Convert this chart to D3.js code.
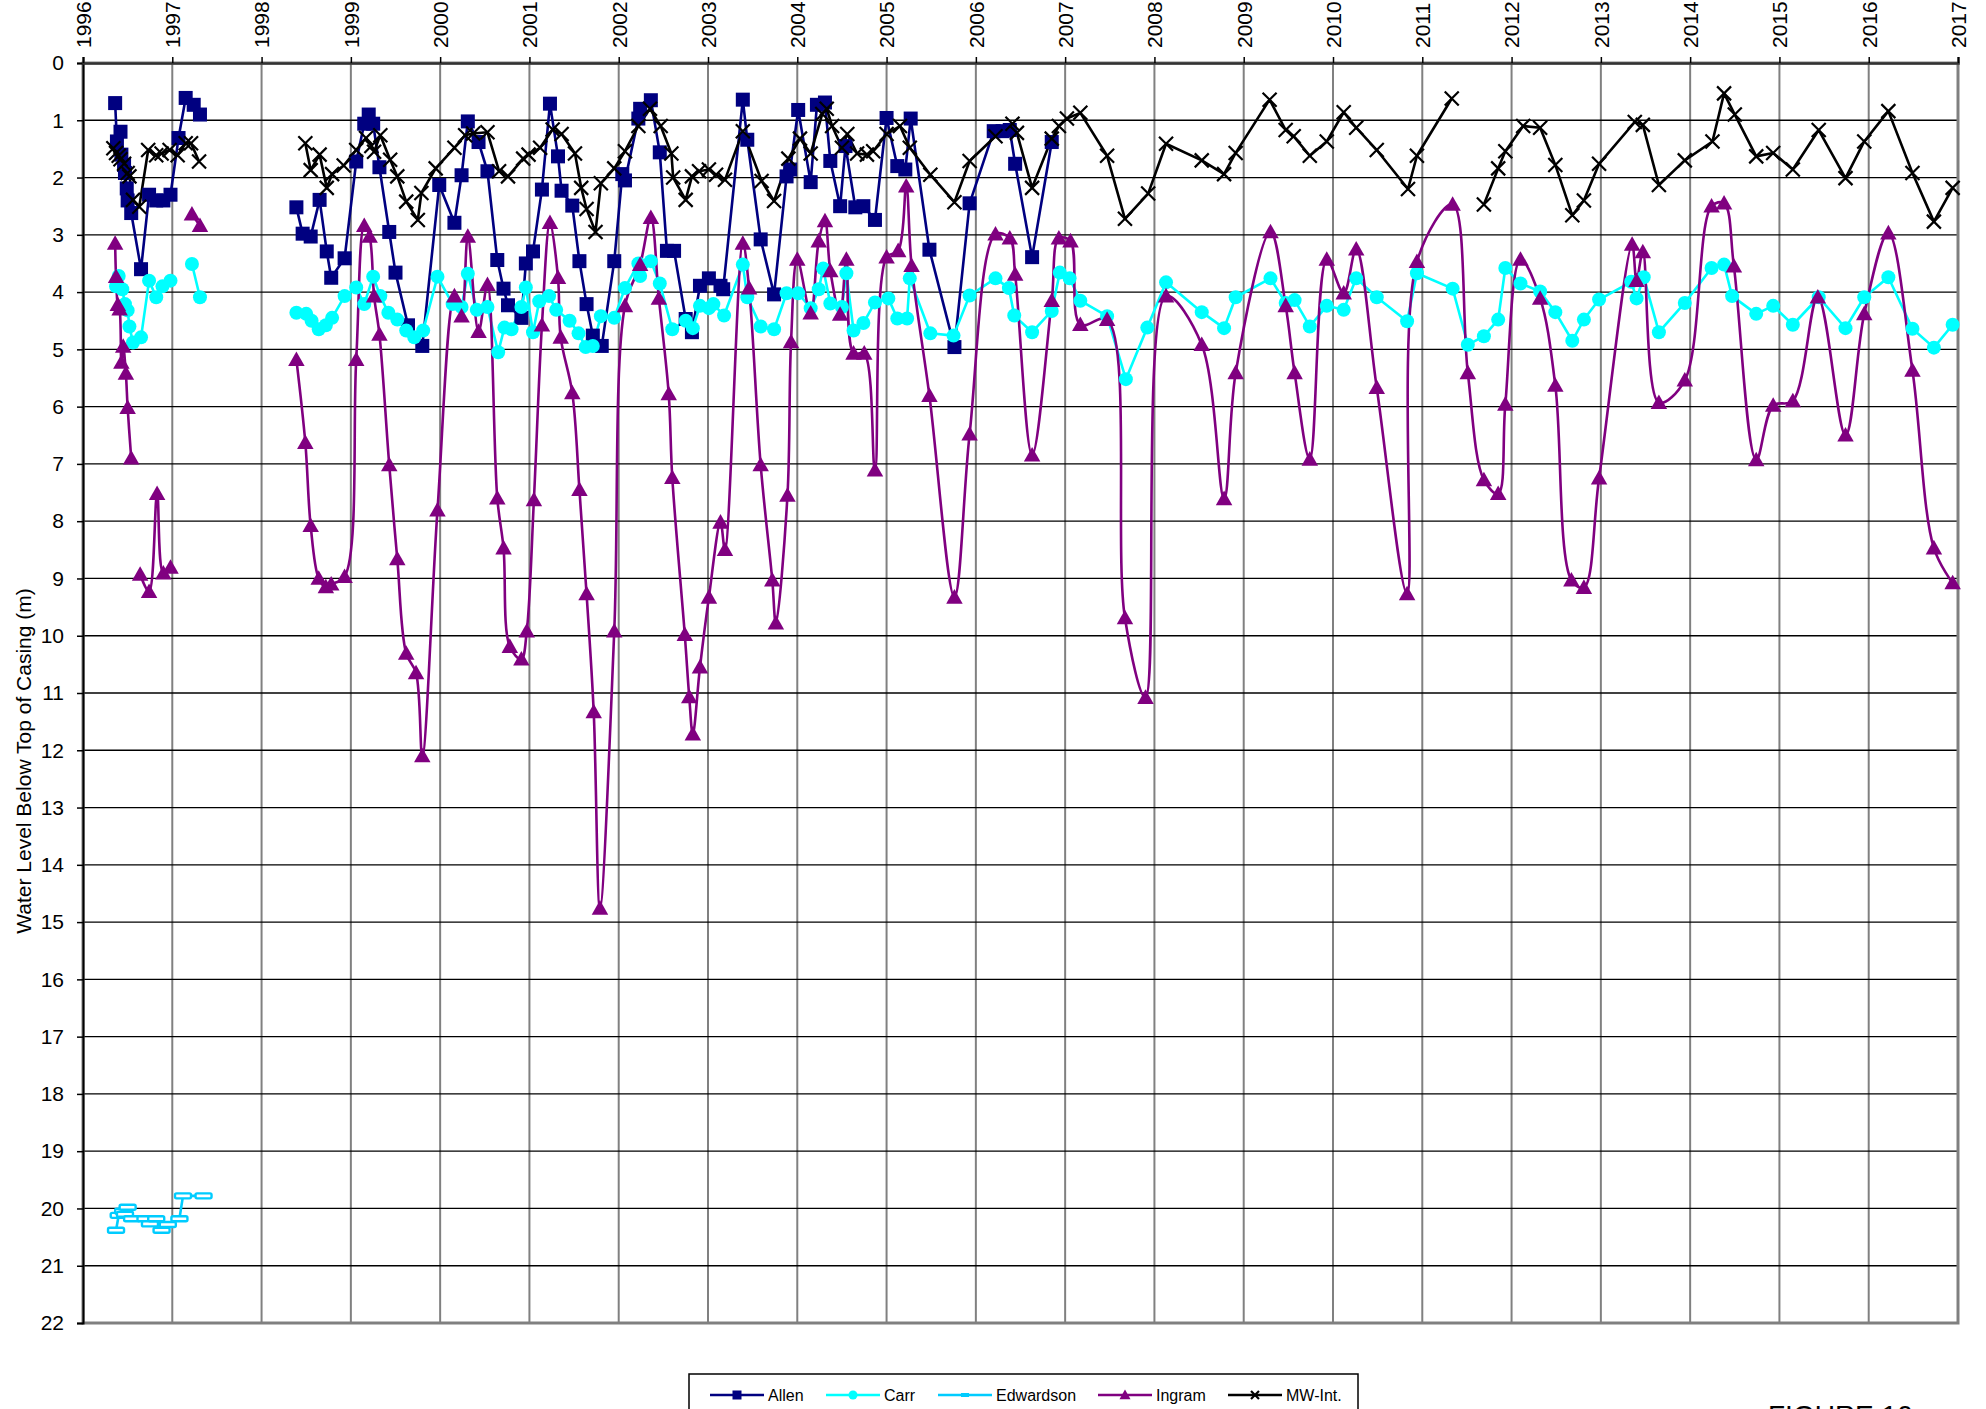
<!DOCTYPE html>
<html>
<head>
<meta charset="utf-8">
<script src="https://cdn.jsdelivr.net/npm/d3@7"></script>
<style>
  body { margin: 0; background: #fff; }
  svg { font-family: "Liberation Sans", Arial, sans-serif; }
</style>
</head>
<body>
<svg width="1986" height="1409"></svg>
<script>
// data: [decimal year, water level below top of casing (m)], null = gap
const allen = [
  [1996.36,0.70],[1996.38,1.37],[1996.42,1.20],[1996.43,1.60],[1996.46,1.78],[1996.47,1.92],[1996.49,2.19],[1996.50,2.40],[1996.54,2.62],[1996.65,3.60],[1996.74,2.30],[1996.82,2.40],[1996.90,2.40],[1996.98,2.30],[1997.07,1.31],[1997.15,0.61],[1997.24,0.73],[1997.31,0.90],
  null,
  [1998.39,2.52],[1998.46,2.98],[1998.55,3.03],[1998.65,2.39],[1998.73,3.29],[1998.78,3.75],[1998.93,3.41],[1999.06,1.72],[1999.15,1.06],[1999.20,0.90],[1999.25,1.06],[1999.32,1.82],[1999.43,2.95],[1999.50,3.66],[1999.64,4.58],[1999.80,4.94],[1999.99,2.13],
  [2000.16,2.79],[2000.24,1.96],[2000.31,1.02],[2000.43,1.38],[2000.53,1.89],[2000.64,3.44],[2000.71,3.94],[2000.76,4.23],[2000.91,4.45],[2000.96,3.50],[2001.04,3.29],[2001.14,2.21],[2001.23,0.71],[2001.32,1.63],[2001.36,2.23],[2001.48,2.49],[2001.56,3.46],[2001.64,4.21],[2001.71,4.76],[2001.81,4.94],[2001.95,3.46],
  [2002.04,1.94],[2002.07,2.05],[2002.22,0.97],[2002.24,0.80],[2002.36,0.65],[2002.46,1.56],[2002.54,3.28],[2002.62,3.28],[2002.75,4.47],[2002.82,4.70],[2002.91,3.89],[2003.01,3.76],[2003.14,3.89],[2003.17,3.95],[2003.39,0.64],[2003.44,1.34],[2003.59,3.08],[2003.74,4.04],[2003.88,1.98],[2003.92,1.86],
  [2004.01,0.82],[2004.15,2.08],[2004.22,0.73],[2004.31,0.69],[2004.37,1.71],[2004.48,2.50],[2004.54,1.45],[2004.65,2.52],[2004.74,2.50],[2004.87,2.74],[2005.00,0.96],[2005.12,1.80],[2005.21,1.86],[2005.27,0.97],[2005.48,3.26],[2005.76,4.96],[2005.93,2.45],
  [2006.20,1.19],[2006.30,1.19],[2006.38,1.17],[2006.44,1.76],[2006.63,3.39],[2006.85,1.38]
];

const carr = [
  [1996.37,3.90],[1996.40,3.72],[1996.44,3.95],[1996.47,4.21],[1996.50,4.32],[1996.52,4.60],[1996.56,4.88],[1996.65,4.79],[1996.74,3.80],[1996.82,4.09],[1996.89,3.90],[1996.98,3.80],
  null,
  [1997.22,3.51],[1997.31,4.09],
  null,
  [1998.39,4.36],[1998.50,4.38],[1998.56,4.50],[1998.64,4.65],[1998.72,4.58],[1998.79,4.45],[1998.93,4.07],[1999.06,3.92],[1999.15,4.21],[1999.25,3.73],[1999.33,4.07],[1999.42,4.36],[1999.52,4.48],[1999.62,4.67],[1999.71,4.79],[1999.81,4.67],[1999.97,3.73],
  [2000.14,4.21],[2000.24,4.26],[2000.31,3.68],[2000.41,4.31],[2000.53,4.26],[2000.65,5.05],[2000.72,4.62],[2000.80,4.65],[2000.91,4.26],[2000.96,3.92],[2001.04,4.70],[2001.11,4.16],[2001.22,4.07],[2001.30,4.31],[2001.45,4.50],[2001.55,4.72],[2001.63,4.96],[2001.71,4.94],[2001.80,4.42],[2001.95,4.45],
  [2002.07,3.93],[2002.22,3.50],[2002.24,3.72],[2002.36,3.46],[2002.46,3.85],[2002.60,4.65],[2002.75,4.50],[2002.83,4.63],[2002.91,4.24],[2003.01,4.28],[2003.06,4.21],[2003.18,4.41],[2003.39,3.52],[2003.44,4.09],[2003.59,4.60],[2003.74,4.65],[2003.88,4.02],
  [2004.01,4.02],[2004.15,4.28],[2004.24,3.95],[2004.29,3.59],[2004.37,4.20],[2004.50,4.26],[2004.55,3.67],[2004.63,4.67],[2004.74,4.54],[2004.87,4.18],[2005.02,4.11],[2005.12,4.46],[2005.23,4.46],[2005.26,3.76],[2005.49,4.72],[2005.75,4.76],[2005.93,4.06],
  [2006.22,3.76],[2006.37,3.93],[2006.43,4.41],[2006.63,4.70],[2006.85,4.33],[2006.94,3.66],[2007.05,3.76],[2007.17,4.15],[2007.47,4.42],[2007.68,5.52],[2007.92,4.62],[2008.13,3.83],[2008.53,4.35],[2008.78,4.63],[2008.91,4.09],
  [2009.30,3.76],[2009.47,4.19],[2009.57,4.14],[2009.74,4.60],[2009.93,4.24],[2010.12,4.31],[2010.26,3.76],[2010.49,4.09],[2010.83,4.51],[2010.94,3.67],[2011.34,3.94],[2011.51,4.92],[2011.69,4.77],[2011.85,4.48],[2011.93,3.58],
  [2012.10,3.85],[2012.32,3.99],[2012.49,4.35],[2012.68,4.85],[2012.81,4.48],[2012.98,4.13],[2013.34,3.82],[2013.40,4.11],[2013.48,3.74],[2013.65,4.70],[2013.94,4.19],[2014.24,3.58],[2014.38,3.52],[2014.47,4.07],[2014.74,4.38],[2014.93,4.24],
  [2015.15,4.57],[2015.44,4.09],[2015.74,4.63],[2015.95,4.09],[2016.22,3.74],[2016.49,4.64],[2016.73,4.97],[2016.94,4.57]
];

const edwardson = [
  [1996.37,20.38],[1996.40,20.12],[1996.45,20.05],[1996.50,19.98],[1996.47,20.10],[1996.55,20.18],[1996.70,20.18],[1996.75,20.27],[1996.82,20.18],[1996.88,20.38],[1996.95,20.28],[1997.08,20.18],[1997.12,19.78],[1997.35,19.78]
];

const ingram = [
  [1996.36,3.15],[1996.37,3.73],[1996.39,4.22],[1996.41,4.30],[1996.43,5.23],[1996.45,4.95],[1996.48,5.42],[1996.50,6.02],[1996.54,6.90],
  null,
  [1996.64,8.93],[1996.74,9.23],[1996.83,7.52],[1996.90,8.91],[1996.98,8.81],
  null,
  [1997.22,2.64],[1997.31,2.84],
  null,
  [1998.39,5.18],[1998.49,6.63],[1998.55,8.08],[1998.64,9.00],[1998.72,9.15],[1998.78,9.10],[1998.93,8.97],[1999.06,5.18],[1999.15,2.84],[1999.21,3.03],[1999.26,4.07],[1999.32,4.74],[1999.43,7.02],[1999.52,8.66],[1999.62,10.31],[1999.73,10.65],[1999.80,12.10],[1999.97,7.81],
  [2000.16,4.07],[2000.24,4.42],[2000.31,3.03],[2000.43,4.69],[2000.53,3.87],[2000.64,7.60],[2000.71,8.47],[2000.78,10.19],[2000.91,10.41],[2000.97,9.92],[2001.05,7.63],[2001.14,4.58],[2001.23,2.79],[2001.32,3.75],[2001.35,4.79],[2001.48,5.76],[2001.56,7.45],[2001.64,9.27],[2001.72,11.33],[2001.79,14.76],[2001.95,9.92],
  [2002.07,4.24],[2002.24,3.52],[2002.36,2.70],[2002.45,4.11],[2002.56,5.78],[2002.60,7.24],[2002.74,9.98],[2002.79,11.07],[2002.83,11.72],[2002.91,10.55],[2003.01,9.33],[2003.14,8.02],[2003.19,8.50],[2003.39,3.15],[2003.46,3.93],[2003.59,7.02],[2003.72,9.03],[2003.76,9.78],[2003.89,7.55],[2003.93,4.87],
  [2004.00,3.43],[2004.15,4.37],[2004.24,3.11],[2004.31,2.76],[2004.37,3.63],[2004.48,4.39],[2004.55,3.43],[2004.63,5.07],[2004.75,5.07],[2004.87,7.11],[2005.00,3.39],[2005.13,3.28],[2005.22,2.15],[2005.28,3.54],[2005.48,5.81],[2005.76,9.33],[2005.93,6.48],
  [2006.22,2.99],[2006.38,3.06],[2006.44,3.69],[2006.63,6.85],[2006.85,4.15],[2006.93,3.06],[2007.06,3.11],[2007.17,4.57],[2007.47,4.48],[2007.67,9.69],[2007.90,11.08],[2008.13,4.07],[2008.53,4.92],[2008.78,7.61],[2008.91,5.41],
  [2009.30,2.95],[2009.47,4.24],[2009.57,5.41],[2009.74,6.92],[2009.93,3.43],[2010.12,4.02],[2010.26,3.25],[2010.49,5.67],[2010.83,9.27],[2010.94,3.47],[2011.34,2.47],[2011.51,5.41],[2011.69,7.28],[2011.85,7.52],[2011.93,5.96],
  [2012.10,3.43],[2012.32,4.11],[2012.49,5.63],[2012.67,9.03],[2012.81,9.16],[2012.98,7.25],[2013.35,3.17],[2013.40,3.80],[2013.47,3.30],[2013.65,5.93],[2013.94,5.54],[2014.24,2.50],[2014.38,2.45],[2014.49,3.55],[2014.74,6.93],[2014.93,5.98],
  [2015.15,5.90],[2015.43,4.09],[2015.74,6.50],[2015.95,4.38],[2016.22,2.97],[2016.49,5.37],[2016.73,8.47],[2016.94,9.08]
];

const mwInt = [
  [1996.34,1.49],[1996.37,1.57],[1996.40,1.62],[1996.42,1.68],[1996.46,1.76],[1996.50,1.92],[1996.52,1.98],[1996.56,2.39],[1996.63,2.51],[1996.73,1.52],[1996.82,1.61],[1996.88,1.58],[1996.97,1.52],[1997.06,1.61],[1997.15,1.40],[1997.21,1.40],[1997.30,1.72],
  null,
  [1998.49,1.40],[1998.55,1.87],[1998.65,1.60],[1998.73,2.18],[1998.79,1.94],[1998.92,1.79],[1999.06,1.52],[1999.17,1.31],[1999.23,1.45],[1999.26,1.55],[1999.33,1.26],[1999.44,1.69],[1999.52,1.98],[1999.62,2.42],[1999.75,2.74],[1999.79,2.27],[1999.95,1.84],
  [2000.16,1.48],[2000.28,1.26],[2000.37,1.23],[2000.53,1.21],[2000.66,1.89],[2000.76,1.98],[2000.93,1.67],[2000.99,1.60],[2001.12,1.48],[2001.26,1.16],[2001.36,1.24],[2001.51,1.58],[2001.58,2.18],[2001.64,2.55],[2001.74,2.95],[2001.80,2.10],[2001.95,1.84],
  [2002.07,1.54],[2002.22,1.10],[2002.35,0.80],[2002.47,1.10],[2002.59,1.58],[2002.61,2.00],[2002.75,2.39],[2002.82,1.98],[2002.90,1.89],[2003.01,1.86],[2003.09,1.95],[2003.19,2.04],[2003.39,1.19],[2003.60,2.06],[2003.74,2.41],[2003.90,1.67],
  [2004.03,1.32],[2004.15,1.58],[2004.28,0.89],[2004.33,0.80],[2004.39,1.10],[2004.50,1.48],[2004.56,1.24],[2004.67,1.58],[2004.78,1.60],[2004.85,1.54],[2005.00,1.24],[2005.15,1.10],[2005.26,1.48],[2005.49,1.95],[2005.76,2.43],[2005.93,1.71],
  [2006.22,1.28],[2006.41,1.06],[2006.46,1.22],[2006.63,2.18],[2006.85,1.32],[2006.93,1.10],[2007.02,0.97],[2007.17,0.87],[2007.47,1.62],[2007.67,2.72],[2007.93,2.28],[2008.13,1.41],[2008.53,1.70],[2008.78,1.94],[2008.91,1.57],
  [2009.29,0.64],[2009.47,1.17],[2009.56,1.28],[2009.74,1.62],[2009.93,1.37],[2010.12,0.86],[2010.26,1.13],[2010.49,1.52],[2010.84,2.20],[2010.94,1.62],[2011.33,0.62],
  null,
  [2011.69,2.47],[2011.85,1.84],[2011.93,1.54],[2012.13,1.10],[2012.32,1.13],[2012.49,1.78],[2012.68,2.66],[2012.81,2.40],[2012.98,1.76],[2013.38,1.03],[2013.47,1.08],[2013.65,2.13],[2013.94,1.70],
  [2014.25,1.37],[2014.38,0.53],[2014.50,0.90],[2014.74,1.63],[2014.93,1.57],[2015.15,1.86],[2015.44,1.17],[2015.74,2.01],[2015.95,1.37],[2016.22,0.84],[2016.49,1.92],[2016.73,2.77],[2016.94,2.18]
];

const yearTicks = d3.range(1996, 2018);
const depthTicks = d3.range(0, 23);
const seriesNames = ["Allen", "Carr", "Edwardson", "Ingram", "MW-Int."];

// layout
const plotLeft = 83, plotTop = 63, plotWidth = 1875, plotHeight = 1260;

const svg = d3.select("svg");

const x = d3.scaleLinear()
  .domain([1996, 2017])
  .range([plotLeft, plotLeft + plotWidth]);

const y = d3.scaleLinear()
  .domain([0, 22])
  .range([plotTop, plotTop + plotHeight]);

// grid
const grid = svg.append("g");
grid.selectAll(".vgrid")
  .data(yearTicks.slice(1, -1))
  .enter().append("line")
    .attr("x1", d => x(d)).attr("x2", d => x(d))
    .attr("y1", plotTop).attr("y2", plotTop + plotHeight)
    .attr("stroke", "#808080")
    .attr("stroke-width", 2);

grid.selectAll(".hgrid")
  .data(depthTicks.slice(1, -1))
  .enter().append("line")
    .attr("x1", plotLeft).attr("x2", plotLeft + plotWidth)
    .attr("y1", d => y(d)).attr("y2", d => y(d))
    .attr("stroke", "#000")
    .attr("stroke-width", 1.3);

// plot border
svg.append("rect")
  .attr("x", plotLeft).attr("y", plotTop)
  .attr("width", plotWidth).attr("height", plotHeight)
  .attr("fill", "none")
  .attr("stroke", "#808080")
  .attr("stroke-width", 3);

// y axis
const yAxis = svg.append("g")
  .attr("transform", `translate(${plotLeft}, 0)`)
  .call(d3.axisLeft(y).tickValues(depthTicks).tickSize(6).tickPadding(13).tickFormat(d3.format("d")));
yAxis.select(".domain").attr("stroke", "#000").attr("stroke-width", 2);
yAxis.selectAll(".tick line").attr("stroke", "#000").attr("stroke-width", 1.5);
yAxis.selectAll("text")
  .attr("font-size", "21px")
  .attr("fill", "#000")
  .style("font-family", "Liberation Sans, Arial, sans-serif");

// x axis along the top (0 m)
const xAxis = svg.append("g")
  .attr("transform", `translate(0, ${plotTop})`)
  .call(d3.axisTop(x).tickValues(yearTicks).tickSize(6).tickFormat(d3.format("d")));
xAxis.select(".domain").attr("stroke", "#333").attr("stroke-width", 2.5);
xAxis.selectAll(".tick line").attr("stroke", "#000").attr("stroke-width", 1.5);
xAxis.selectAll("text")
  .attr("transform", "rotate(-90)")
  .attr("x", 15)
  .attr("y", 0)
  .attr("dy", "0.35em")
  .attr("text-anchor", "start")
  .attr("font-size", "21px")
  .attr("fill", "#000")
  .style("font-family", "Liberation Sans, Arial, sans-serif");

// y label
svg.append("text")
  .attr("transform", `translate(31, 761) rotate(-90)`)
  .attr("text-anchor", "middle")
  .attr("font-size", "21px")
  .text("Water Level Below Top of Casing (m)");

// series
const straight = d3.line()
  .defined(d => d !== null)
  .x(d => x(d[0]))
  .y(d => y(d[1]));

const smooth = d3.line()
  .defined(d => d !== null)
  .x(d => x(d[0]))
  .y(d => y(d[1]))
  .curve(d3.curveCatmullRom.alpha(0.5));

const lines = svg.append("g");

function drawLine(data, color, gen) {
  lines.append("path")
    .datum(data)
    .attr("d", gen)
    .attr("fill", "none")
    .attr("stroke", color)
    .attr("stroke-width", 2.6)
    .attr("stroke-linejoin", "round");
}

// marker shapes
function square(g, s, color) {
  g.append("rect").attr("x", -s / 2).attr("y", -s / 2).attr("width", s).attr("height", s).attr("fill", color);
}
function circle(g, s, color) {
  g.append("circle").attr("r", s / 2).attr("fill", color);
}
function dash(g, s, color) {
  g.append("rect").attr("x", -s / 2).attr("y", -2.5).attr("width", s).attr("height", 5).attr("rx", 1.5)
    .attr("fill", "#fff").attr("stroke", color).attr("stroke-width", 2.4);
}
function triangle(g, s, color) {
  g.append("path").attr("d", `M0,${-s * 0.55}L${s * 0.55},${s * 0.42}L${-s * 0.55},${s * 0.42}Z`).attr("fill", color);
}
function cross(g, s, color) {
  const h = s / 2;
  g.append("path").attr("d", `M${-h},${-h}L${h},${h}M${-h},${h}L${h},${-h}`)
    .attr("stroke", color).attr("stroke-width", 2.2).attr("fill", "none");
}

function drawMarkers(data, shape, size, color) {
  svg.append("g").selectAll("g")
    .data(data.filter(d => d !== null))
    .enter().append("g")
      .attr("transform", d => `translate(${x(d[0])}, ${y(d[1])})`)
      .each(function() { shape(d3.select(this), size, color); });
}

const series = [
  { data: allen, color: "#000080", gen: straight, shape: square, size: 14 },
  { data: carr, color: "#00ffff", gen: straight, shape: circle, size: 14 },
  { data: edwardson, color: "#00ccff", gen: straight, shape: dash, size: 16 },
  { data: ingram, color: "#800080", gen: smooth, shape: triangle, size: 15 },
  { data: mwInt, color: "#000000", gen: straight, shape: cross, size: 14 }
];

series.forEach(s => {
  drawLine(s.data, s.color, s.gen);
  drawMarkers(s.data, s.shape, s.size, s.color);
});

// legend (box runs off the bottom of the page, as in the original)
const legend = svg.append("g");
legend.append("rect")
  .attr("x", 689).attr("y", 1374)
  .attr("width", 669).attr("height", 60)
  .attr("fill", "#fff")
  .attr("stroke", "#000")
  .attr("stroke-width", 1.5);

const legendX = [710, 826, 938, 1098, 1228];
const legendMarkerSize = [9, 9, 9, 10, 8];
seriesNames.forEach((name, i) => {
  const s = series[i];
  const item = legend.append("g").attr("transform", `translate(${legendX[i]}, 1395)`);
  item.append("line")
    .attr("x1", 0).attr("x2", 54)
    .attr("stroke", s.color)
    .attr("stroke-width", 2.6);
  const m = item.append("g").attr("transform", "translate(27, 0)");
  if (s.shape === dash) {
    m.append("rect").attr("x", -4).attr("y", -2).attr("width", 8).attr("height", 4).attr("fill", s.color);
  } else {
    s.shape(m, legendMarkerSize[i], s.color);
  }
  item.append("text")
    .attr("x", 58)
    .attr("dy", "0.35em")
    .attr("font-size", "16px")
    .text(name);
});

// figure caption, cut by the page edge
svg.append("text")
  .attr("x", 1768)
  .attr("y", 1425)
  .attr("font-size", "28px")
  .text("FIGURE 10");
</script>
</body>
</html>
